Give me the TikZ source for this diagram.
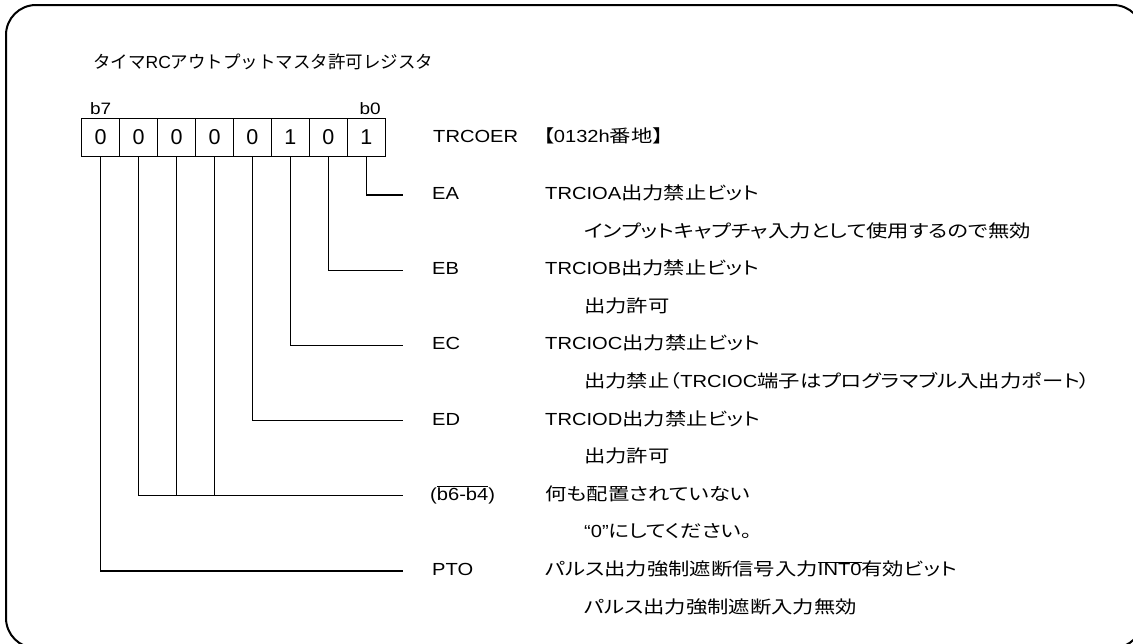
\documentclass[tikz,border=0pt]{standalone}
\usepackage{fontspec}
\setmainfont{Liberation Sans}[FakeStretch=1.15]
\newfontfamily\jpf{Noto Sans CJK JP}[FakeStretch=1.22,RawFeature=+palt]
\newfontfamily\jpt{Noto Sans CJK JP}
\newfontfamily\lat{Liberation Sans}
\newcommand\J[1]{{\jpf #1}}
\newcommand\ovl[1]{$\overline{\hbox{#1}}$}
\begin{document}
\begin{tikzpicture}[x=1pt,y=-1pt,
  txt/.style={anchor=west,inner sep=0pt,font=\fontsize{17.5}{20}\selectfont,text height=12pt,text depth=3pt},
  ttl/.style={anchor=west,inner sep=0pt,font=\lat\fontsize{17.5}{20}\selectfont},
  cell/.style={draw,line width=1.3pt,minimum width=37.95pt,minimum height=38pt,inner sep=0pt,font=\lat\fontsize{21.5}{24}\selectfont},
  bl/.style={inner sep=0pt,font=\fontsize{16.5}{19}\selectfont},
  wire/.style={line width=1.3pt}]
\useasboundingbox (0,0) rectangle (1133,643);
\begin{scope}
\clip (0,0) rectangle (1133,643);
\draw[line width=2pt,rounded corners=30pt] (6,5) rectangle (1143,648);
\end{scope}
\node[ttl] (title) at (93,62) {{\jpt タイマ}RC{\jpt アウトプットマスタ許可レジスタ}};
\foreach \i/\v in {7/0,6/0,5/0,4/0,3/0,2/1,1/0,0/1}{
  \node[cell] (c\i) at ({81.7+37.95*(7-\i)+18.975},137.5) {\v};
}
\node[bl,anchor=south] (b7) at ([yshift=3pt]c7.north) {b7};
\node[bl,anchor=south east] (b0) at ([yshift=3pt,xshift=-5pt]c0.north east) {b0};
\node[txt] (reg) at (433,138) {TRCOER};
\node[txt] (addr) at (543,138) {\J{【}0132h\J{番地】}};
% rows
\def\rs{37.6}
\foreach \n/\k in {ea/0,eb/2,ec/4,ed/6,bx/8,pto/10}{
  \coordinate (\n end) at (403,{195+\rs*\k});
}
\node[txt] (ea) at (432,195) {EA};
\node[txt] (ead) at (545,195) {TRCIOA\J{出力禁止ビット}};
\node[txt] (eas) at (584,{195+\rs}) {\J{インプットキャプチャ入力として使用するので無効}};
\node[txt] (eb) at (432,{195+2*\rs}) {EB};
\node[txt] (ebd) at (545,{195+2*\rs}) {TRCIOB\J{出力禁止ビット}};
\node[txt] (ebs) at (584,{195+3*\rs}) {\J{出力許可}};
\node[txt] (ec) at (432,{195+4*\rs}) {EC};
\node[txt] (ecd) at (545,{195+4*\rs}) {TRCIOC\J{出力禁止ビット}};
\node[txt] (ecs) at (584,{195+5*\rs}) {\J{出力禁止（}TRCIOC\J{端子はプログラマブル入出力ポート）}};
\node[txt] (ed) at (432,{195+6*\rs}) {ED};
\node[txt] (edd) at (545,{195+6*\rs}) {TRCIOD\J{出力禁止ビット}};
\node[txt] (eds) at (584,{195+7*\rs}) {\J{出力許可}};
\node[txt] (bx) at (430,{195+8*\rs}) {(\ovl{b6-b4})};
\node[txt] (bxd) at (545,{195+8*\rs}) {\J{何も配置されていない}};
\node[txt] (bxs) at (584,{195+9*\rs}) {“0”\J{にしてください。}};
\node[txt] (pto) at (432,{195+10*\rs}) {PTO};
\node[txt] (ptod) at (545,{195+10*\rs}) {\J{パルス出力強制遮断信号入力}\ovl{INT0}\J{有効ビット}};
\node[txt] (ptos) at (584,{195+11*\rs}) {\J{パルス出力強制遮断入力無効}};
% wires
\draw[wire] (c0.south) |- (eaend);
\draw[wire] (c1.south) |- (ebend);
\draw[wire] (c2.south) |- (ecend);
\draw[wire] (c3.south) |- (edend);
\draw[wire] (c6.south) |- (bxend);
\draw[wire] (c5.south) -- (c5.south |- bxend);
\draw[wire] (c4.south) -- (c4.south |- bxend);
\draw[wire] (c7.south) |- (ptoend);
\end{tikzpicture}
\end{document}
